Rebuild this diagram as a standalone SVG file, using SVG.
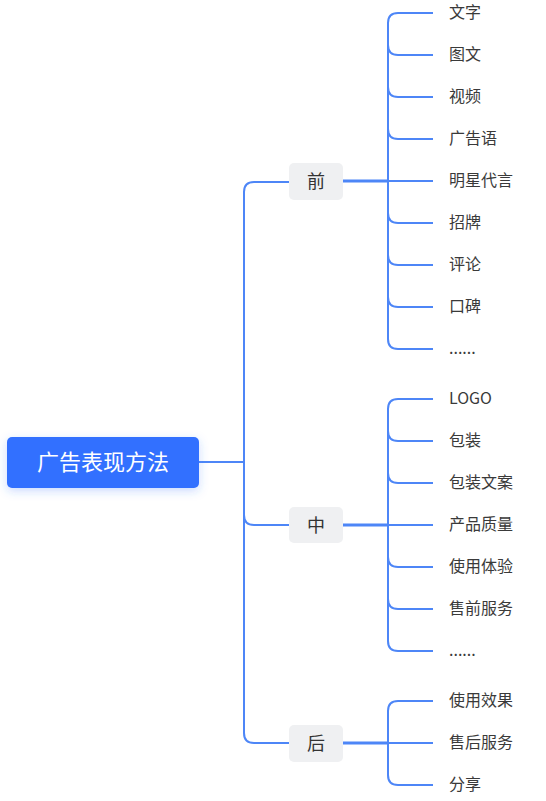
<svg xmlns="http://www.w3.org/2000/svg" width="546" height="801" viewBox="0 0 546 801">
<defs>
<filter id="sh" x="-20%" y="-40%" width="140%" height="180%">
<feDropShadow dx="0" dy="3" stdDeviation="5" flood-color="#3370FF" flood-opacity="0.25"/>
</filter>
</defs>
<style>
text{font-family:"Noto Sans CJK SC","Noto Sans",sans-serif;}
.root{fill:#3370FF;}
.rt{fill:#fff;font-size:22px;text-anchor:middle;dominant-baseline:central;}
.br{fill:#EFF0F2;}
.bt{fill:#333;font-size:18px;text-anchor:middle;dominant-baseline:central;}
.lt{fill:#3a3a3a;font-size:16px;dominant-baseline:central;}
.c{fill:none;stroke:#4D86F7;stroke-width:2;}
.c3{fill:none;stroke:#4D86F7;stroke-width:3;}
</style>
<rect width="546" height="801" fill="#fff"/>
<g id="connectors">
<path class="c" d="M199 462 H244"/>
<path class="c" d="M289 182 H254 Q244 182 244 192 V733 Q244 743 254 743 H289"/>
<path class="c" d="M244 515 Q244 525 254 525 H289"/>
<path class="c3" d="M343 181 H388"/>
<path class="c3" d="M343 525 H388"/>
<path class="c3" d="M343 743 H388"/>
<path class="c" d="M433 13 H398 Q388 13 388 23 V339 Q388 349 398 349 H433"/>
<path class="c" d="M388 45 Q388 55 398 55 H433"/>
<path class="c" d="M388 87 Q388 97 398 97 H433"/>
<path class="c" d="M388 129 Q388 139 398 139 H433"/>
<path class="c" d="M388 181 H433"/>
<path class="c" d="M388 213 Q388 223 398 223 H433"/>
<path class="c" d="M388 255 Q388 265 398 265 H433"/>
<path class="c" d="M388 297 Q388 307 398 307 H433"/>
<path class="c" d="M433 399 H398 Q388 399 388 409 V641 Q388 651 398 651 H433"/>
<path class="c" d="M388 431 Q388 441 398 441 H433"/>
<path class="c" d="M388 473 Q388 483 398 483 H433"/>
<path class="c" d="M388 525 H433"/>
<path class="c" d="M388 557 Q388 567 398 567 H433"/>
<path class="c" d="M388 599 Q388 609 398 609 H433"/>
<path class="c" d="M433 701 H398 Q388 701 388 711 V775 Q388 785 398 785 H433"/>
<path class="c" d="M388 743 H433"/>
</g>
<g id="root"><rect class="root" x="7" y="437" width="192" height="51" rx="5" filter="url(#sh)"/><text class="rt" x="103" y="460">广告表现方法</text></g>
<g id="qian"><rect class="br" x="289" y="163" width="54" height="37" rx="5"/><text class="bt" x="316" y="179.5">前</text></g>
<g id="zhong"><rect class="br" x="289" y="507" width="54" height="36" rx="5"/><text class="bt" x="316" y="523.5">中</text></g>
<g id="hou"><rect class="br" x="289" y="725" width="54" height="37" rx="5"/><text class="bt" x="316" y="741.5">后</text></g>
<g id="l1"><text class="lt" x="449" y="11">文字</text></g>
<g id="l2"><text class="lt" x="449" y="53">图文</text></g>
<g id="l3"><text class="lt" x="449" y="95">视频</text></g>
<g id="l4"><text class="lt" x="449" y="137">广告语</text></g>
<g id="l5"><text class="lt" x="449" y="179">明星代言</text></g>
<g id="l6"><text class="lt" x="449" y="221">招牌</text></g>
<g id="l7"><text class="lt" x="449" y="263">评论</text></g>
<g id="l8"><text class="lt" x="449" y="305">口碑</text></g>
<g id="l9"><text class="lt" x="449" y="347">......</text></g>
<g id="m1"><text class="lt" x="449" y="397">LOGO</text></g>
<g id="m2"><text class="lt" x="449" y="439">包装</text></g>
<g id="m3"><text class="lt" x="449" y="481">包装文案</text></g>
<g id="m4"><text class="lt" x="449" y="523">产品质量</text></g>
<g id="m5"><text class="lt" x="449" y="565">使用体验</text></g>
<g id="m6"><text class="lt" x="449" y="607">售前服务</text></g>
<g id="m7"><text class="lt" x="449" y="649">......</text></g>
<g id="h1"><text class="lt" x="449" y="699">使用效果</text></g>
<g id="h2"><text class="lt" x="449" y="741">售后服务</text></g>
<g id="h3"><text class="lt" x="449" y="783">分享</text></g>
</svg>
